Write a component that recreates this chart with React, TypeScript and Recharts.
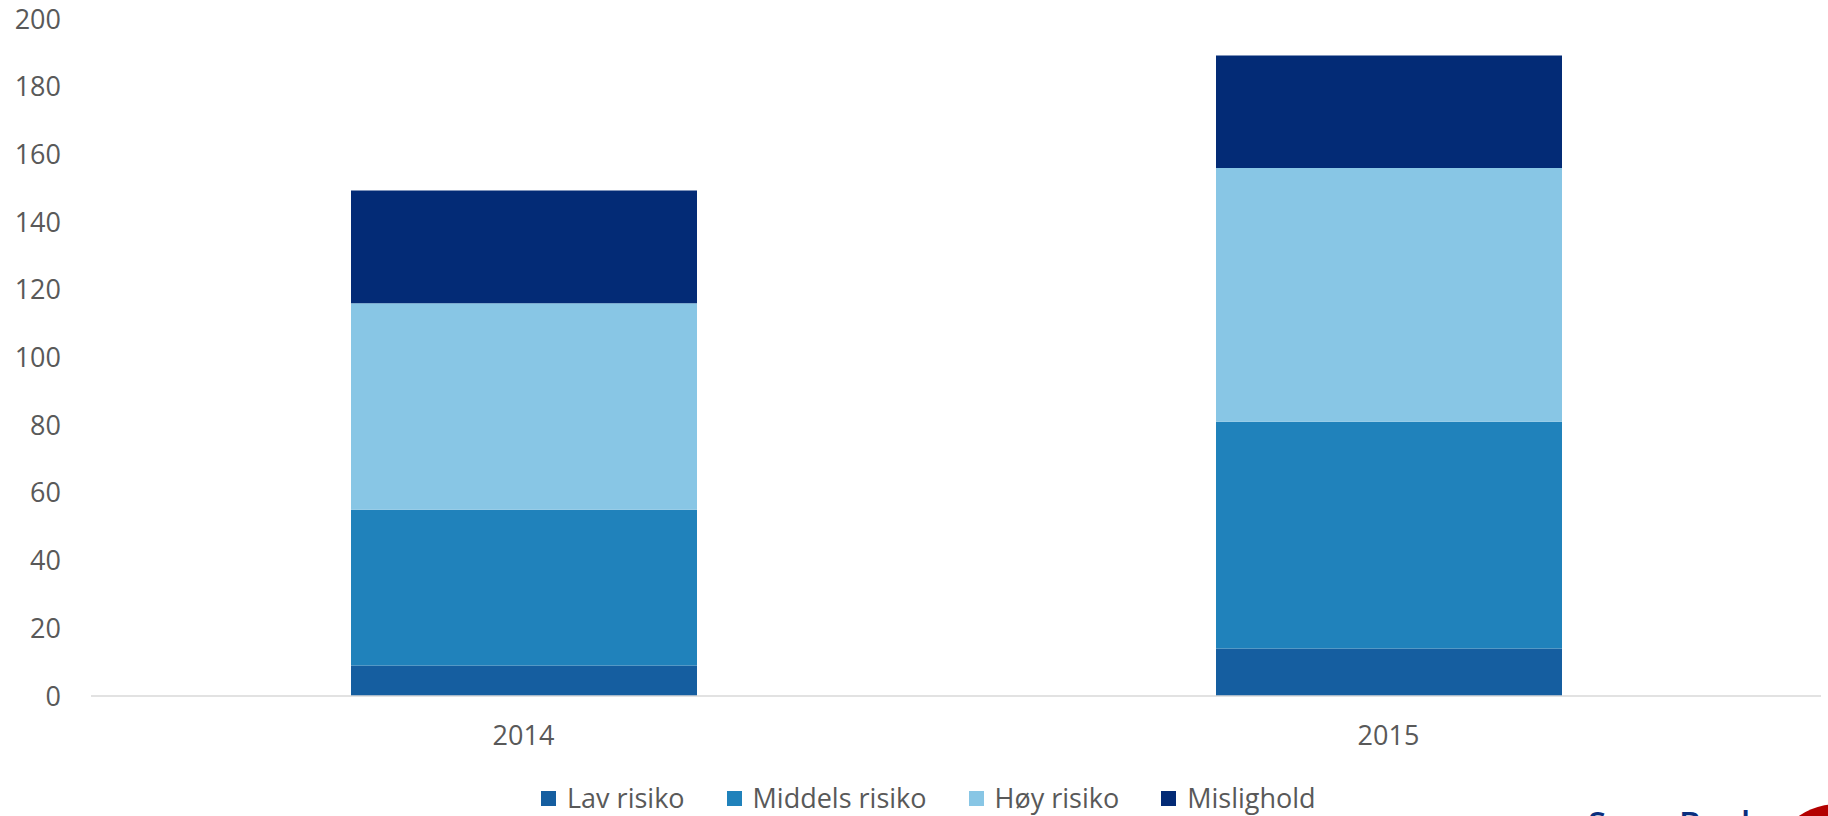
import React from 'react';
import { BarChart, Bar, XAxis, YAxis, Legend } from 'recharts';

const categories = ['2014', '2015'];
const lavRisiko = [9, 14];
const middelsRisiko = [46, 67];
const hoyRisiko = [61, 75];
const mislighold = [33.3, 33.2];
const yTicks = [0, 20, 40, 60, 80, 100, 120, 140, 160, 180, 200];
const seriesKeys = ['lav', 'middels', 'hoy', 'mislighold'];
const seriesNames = ['Lav risiko', 'Middels risiko', 'Høy risiko', 'Mislighold'];
const seriesColors = ['#155ea0', '#2082bb', '#88c6e5', '#032b76'];

const data = categories.map((c, i) => ({
  year: c,
  lav: lavRisiko[i],
  middels: middelsRisiko[i],
  hoy: hoyRisiko[i],
  mislighold: mislighold[i],
}));

const FONT = '"Open Sans", "Noto Sans", sans-serif';
const TEXT = '#595959';

const LegendContent = () => (
  <div
    style={{
      height: 50,
      boxSizing: 'border-box',
      paddingTop: 14,
      paddingLeft: 541,
      display: 'flex',
      alignItems: 'center',
      fontFamily: FONT,
      fontSize: 27,
      color: TEXT,
    }}
  >
    {seriesNames.map((n, i) => (
      <div key={n} style={{ display: 'flex', alignItems: 'center', marginRight: 42, height: 36 }}>
        <div style={{ width: 15, height: 15, background: seriesColors[i], marginRight: 11 }} />
        <span style={{ lineHeight: '36px', whiteSpace: 'nowrap' }}>{n}</span>
      </div>
    ))}
  </div>
);

export default function App() {
  return (
    <div
      style={{
        position: 'absolute',
        left: 0,
        top: 0,
        width: 1828,
        height: 816,
        overflow: 'hidden',
        background: '#ffffff',
      }}
    >
      <BarChart
        width={1828}
        height={816}
        data={data}
        margin={{ top: 19, right: 7, bottom: 0, left: 0 }}
      >
        <YAxis
          width={91}
          domain={[0, 200]}
          ticks={yTicks}
          axisLine={false}
          tickLine={false}
          tickSize={0}
          tickMargin={30}
          interval={0}
          tick={{ fill: TEXT, fontSize: 27, fontFamily: FONT }}
        />
        <XAxis
          dataKey="year"
          height={70}
          axisLine={{ stroke: '#d9d9d9', strokeWidth: 1.5 }}
          tickLine={false}
          tickSize={0}
          tickMargin={30}
          tick={{ fill: TEXT, fontSize: 27, fontFamily: FONT }}
        />
        <Legend
          verticalAlign="bottom"
          content={<LegendContent />}
          wrapperStyle={{ left: 0, width: 1828, height: 50 }}
        />
        {seriesKeys.map((k, i) => (
          <Bar
            key={k}
            dataKey={k}
            name={seriesNames[i]}
            stackId="a"
            fill={seriesColors[i]}
            barSize={346}
            isAnimationActive={false}
          />
        ))}
      </BarChart>
      <span
        style={{
          position: 'absolute',
          left: 1588,
          top: 806,
          fontFamily: FONT,
          fontWeight: 600,
          fontSize: 33,
          lineHeight: '33px',
          color: '#0b2f7e',
          whiteSpace: 'nowrap',
        }}
      >
        SpareBank
      </span>
      <div
        style={{
          position: 'absolute',
          left: 1768,
          top: 804,
          width: 140,
          height: 140,
          borderRadius: '50%',
          background: '#b30000',
        }}
      />
    </div>
  );
}
